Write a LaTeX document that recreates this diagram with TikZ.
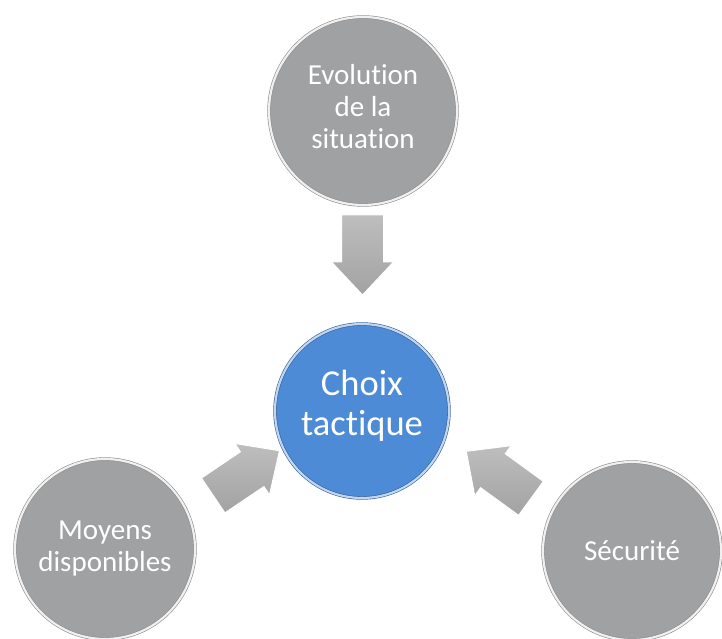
\documentclass[tikz,border=0pt]{standalone}
\usepackage{fontspec}
\setmainfont{Carlito}[Ligatures={NoCommon}]
\usetikzlibrary{calc}
\definecolor{ballgray}{HTML}{A0A1A3}
\definecolor{ballblue}{HTML}{4D8BD6}
\definecolor{rimgray}{HTML}{8E8E8E}
\definecolor{arrowlight}{HTML}{BEBEBE}
\definecolor{arrowdark}{HTML}{A2A2A2}
\tikzset{
  ball/.style={circle, inner sep=0pt, minimum size=#1, fill=ballgray,
    draw=rimgray, double=white!88!gray, double distance=2.2pt,
    line width=0.6pt, text=white, align=center},
  ball/.default={184pt},
  bluebal/.style={ball=#1, fill=ballblue, draw=ballblue!70!black,
    double=ballblue!35!white},
  smalltext/.style={font=\fontsize{29}{32}\selectfont},
  bigtext/.style={font=\fontsize{36.5}{40}\selectfont},
  blockarrow/.style={shading=axis, left color=arrowlight, right color=arrowdark,
    shading angle=0, draw=white, line width=1pt, line join=miter}
}
\newcommand{\blockarrowpath}{%
  (-40,-21) -- (7,-21) -- (7,-31) -- (40,0) -- (7,31) -- (7,21) -- (-40,21) -- cycle}
\begin{document}
\begin{tikzpicture}[x=1pt,y=1pt]
  \useasboundingbox (0,0) rectangle (722,639);
  % circles (a larger text depth lifts the text a little above the centre)
  \node[ball=188pt, smalltext, text depth=10pt] (evol) at (363,528) {Evolution\\de la\\situation};
  \node[bluebal=174pt, bigtext, text depth=17pt] (choix) at (362,228) {Choix\\tactique};
  \node[ball=180pt, smalltext] (moyens) at (105,90) {Moyens\\disponibles};
  \node[ball=178pt, smalltext] (secu) at (632,88) {Sécurité};
  % block arrows pointing at the central circle
  \coordinate (a1) at ($(evol)!0.48!(choix)$);
  \coordinate (a2) at ($(moyens)!0.55!(choix)$);
  \coordinate (a3) at ($(secu)!0.494!(choix) + (0,7)$);
  \begin{scope}[shift={(a1)}, rotate=-90]
    \path[blockarrow] \blockarrowpath;
  \end{scope}
  \begin{scope}[shift={(a2)}, rotate=34]
    \path[blockarrow] \blockarrowpath;
  \end{scope}
  \begin{scope}[shift={(a3)}, rotate=144]
    \path[blockarrow] \blockarrowpath;
  \end{scope}
\end{tikzpicture}
\end{document}
